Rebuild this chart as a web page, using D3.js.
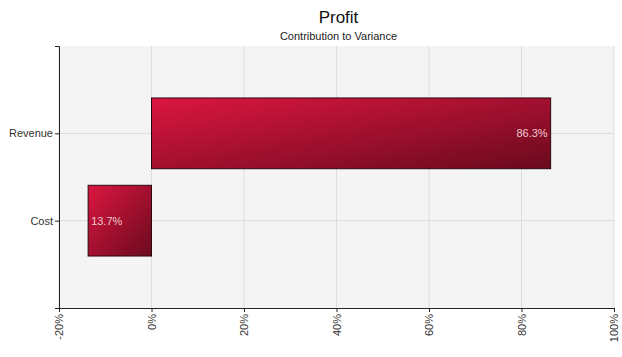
<!DOCTYPE html>
<html><head><meta charset="utf-8">
<script src="https://cdn.jsdelivr.net/npm/d3@7"></script>
<style>body{margin:0;background:#fff;font-family:"Liberation Sans",Arial,sans-serif;}</style>
</head><body>
<script>
const categories = ["Revenue", "Cost"];
const values = [86.3, -13.7];
const valueLabels = ["86.3%", "13.7%"];
const xTicks = [-20, 0, 20, 40, 60, 80, 100];
const title = "Profit";
const subtitle = "Contribution to Variance";

const FONT = "'Liberation Sans', Arial, sans-serif";
const W = 622, H = 357;
const m = {left: 59, right: 8, top: 46, bottom: 49};
const svg = d3.select("body").append("svg").attr("width", W).attr("height", H)
  .style("font-family", FONT);
const defs = svg.append("defs");
const g = defs.append("linearGradient").attr("id", "barGrad")
  .attr("x1", "0%").attr("y1", "0%").attr("x2", "100%").attr("y2", "100%");
g.append("stop").attr("offset", "0%").attr("stop-color", "#dc1640");
g.append("stop").attr("offset", "100%").attr("stop-color", "#6a0a1e");

const x = d3.scaleLinear().domain([-20, 100]).range([m.left, W - m.right]);
const y = d3.scalePoint().domain(categories).range([m.top, H - m.bottom]).padding(1);
const step = y.step();
const bh = step * 0.81;

svg.append("rect").attr("x", m.left).attr("y", m.top)
  .attr("width", W - m.right - m.left).attr("height", H - m.bottom - m.top)
  .attr("fill", "#f4f4f4");

svg.append("g").selectAll("line").data(xTicks).join("line")
  .attr("x1", d => x(d)).attr("x2", d => x(d))
  .attr("y1", m.top).attr("y2", H - m.bottom)
  .attr("stroke", "#dcdcdc").attr("stroke-width", 1);
svg.append("g").selectAll("line").data(categories).join("line")
  .attr("x1", m.left).attr("x2", W - m.right)
  .attr("y1", d => y(d)).attr("y2", d => y(d))
  .attr("stroke", "#dcdcdc").attr("stroke-width", 1);

svg.append("g").selectAll("rect").data(categories).join("rect")
  .attr("x", (d, i) => x(Math.min(0, values[i])))
  .attr("y", d => y(d) - bh / 2)
  .attr("width", (d, i) => Math.abs(x(values[i]) - x(0)))
  .attr("height", bh)
  .attr("fill", "url(#barGrad)")
  .attr("stroke", "#2a0810").attr("stroke-width", 1);

svg.append("g").selectAll("text").data(categories).join("text")
  .attr("x", (d, i) => values[i] >= 0 ? x(values[i]) - 3 : x(values[i]) + 3)
  .attr("y", d => y(d))
  .attr("dy", "0.35em")
  .attr("text-anchor", (d, i) => values[i] >= 0 ? "end" : "start")
  .attr("fill", "#f0c8d0")
  .attr("font-size", 11)
  .text((d, i) => valueLabels[i]);

const xAxis = svg.append("g").attr("transform", `translate(0,${H - m.bottom})`)
  .call(d3.axisBottom(x).tickValues(xTicks).tickFormat(d => d + "%").tickSize(4).tickSizeOuter(0));
xAxis.selectAll("text")
  .attr("transform", "rotate(-90)")
  .attr("text-anchor", "end")
  .attr("x", -6).attr("y", 0).attr("dy", "0.35em")
  .attr("fill", "#333").attr("font-size", 11);
xAxis.select(".domain").attr("stroke", "#222");

const yAxis = svg.append("g").attr("transform", `translate(${m.left},0)`)
  .call(d3.axisLeft(y).tickSize(4).tickSizeOuter(4));
yAxis.selectAll("text").attr("fill", "#333").attr("font-size", 11).attr("x", -6);
yAxis.select(".domain").attr("stroke", "#222");
svg.selectAll(".tick line").attr("stroke", "#222");
svg.selectAll(".tick text").attr("font-family", FONT);

svg.append("text").attr("x", (m.left + W - m.right) / 2 + 2).attr("y", 23)
  .attr("text-anchor", "middle").attr("font-size", 17).attr("fill", "#111").text(title);
svg.append("text").attr("x", (m.left + W - m.right) / 2 + 2).attr("y", 40)
  .attr("text-anchor", "middle").attr("font-size", 11).attr("fill", "#222").text(subtitle);
</script>
</body></html>
